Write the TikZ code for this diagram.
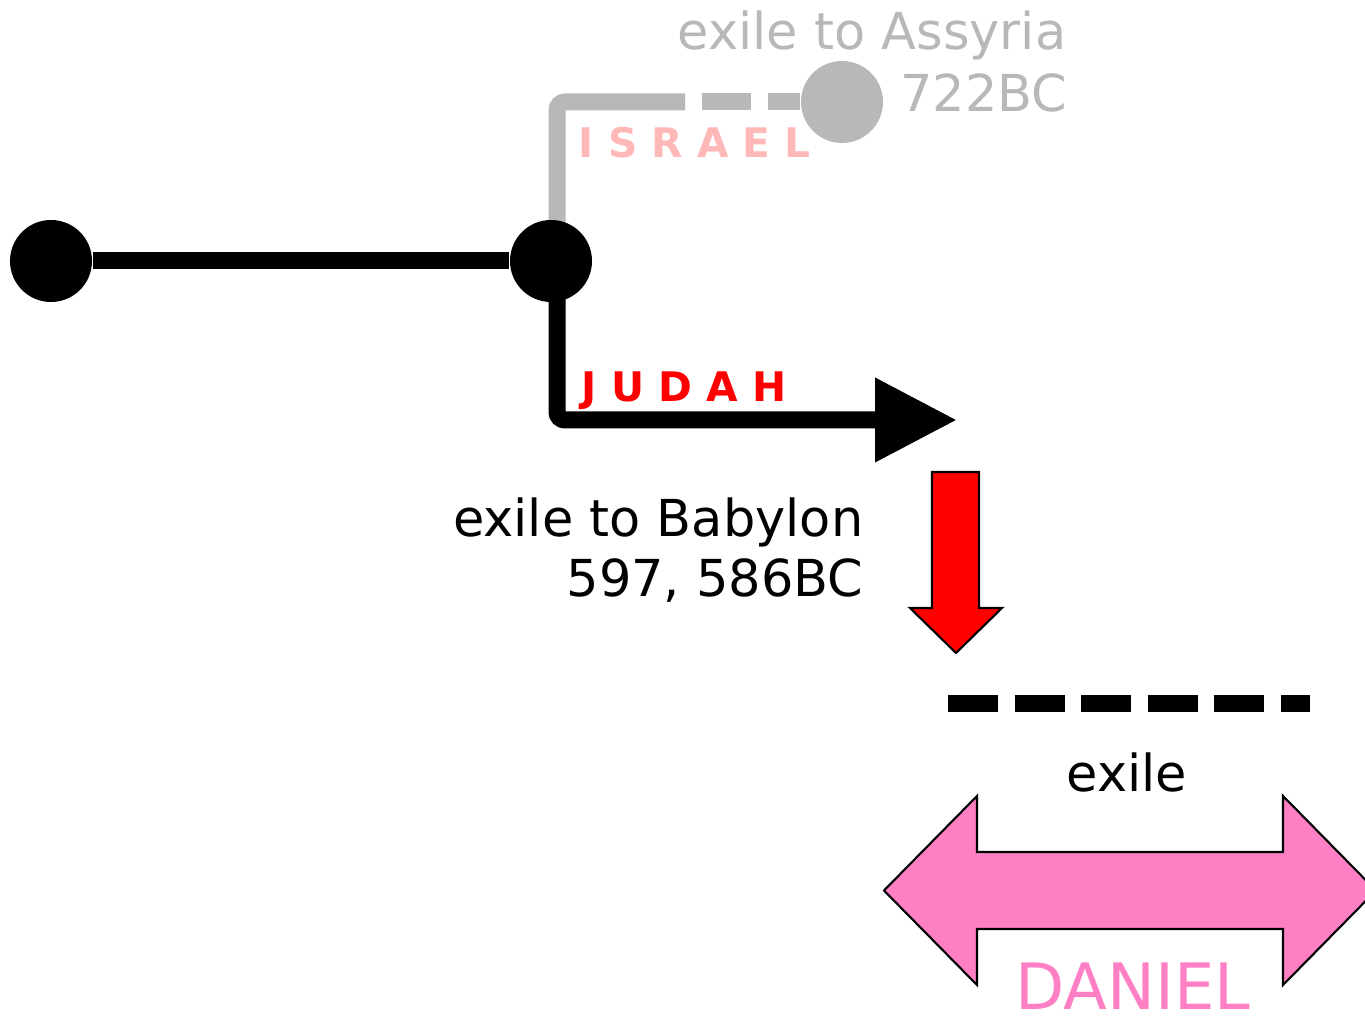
\documentclass[tikz,border=0pt]{standalone}
\usepackage{fontspec}
\setmainfont{DejaVu Sans}
\usetikzlibrary{arrows.meta}
\definecolor{israelgray}{HTML}{B8B8B8}
\definecolor{israelpink}{HTML}{FFB8B8}
\definecolor{judahred}{HTML}{FF0000}
\definecolor{danielpink}{HTML}{FF7FC4}

\begin{document}
\begin{tikzpicture}[
  dot/.style={circle,fill=black,inner sep=0pt,minimum size=0.82cm},
  greydot/.style={dot,fill=israelgray},
  kingdom/.style={line width=0.17cm,rounded corners=0.08cm},
  note/.style={inner sep=0pt,font=\fontsize{14.5}{17.1}\selectfont},
  tribe/.style={inner sep=0pt,font=\bfseries\fontsize{11.6}{14}\selectfont},
  block/.style={draw=black,line width=0.6pt}]
  \useasboundingbox (0,0) rectangle (13.65,-10.23);
  \clip (0,0) rectangle (13.65,-10.23);

  % israel branch, drawn first so the dots sit on top
  \node[greydot] (assyria) at (8.42,-1.02) {};
  \coordinate (split) at (5.51,-2.61);
  \draw[kingdom,israelgray] ([xshift=0.06cm]split) |- (6.85,-1.02) coordinate (israelend);
  \draw[line width=0.17cm,israelgray,dash pattern=on 0pt off 0.17cm on 0.49cm off 0.17cm on 2cm]
    (israelend) -- (assyria);

  % judah branch
  \coordinate (judahtip) at (9.57,-4.20);
  \draw[kingdom,-{Triangle[length=0.82cm,width=0.80cm]}]
    ([xshift=0.06cm]split) |- (judahtip);

  % united kingdom
  \node[dot] (start) at (0.51,-2.61) {};
  \node[dot] (divide) at (split) {};
  \draw[line width=0.17cm] (start) -- (divide);

  \node[note,text=israelgray,anchor=base east] (assyrtext) at (10.67,-0.50) {exile to Assyria};
  \node[note,text=israelgray,anchor=base east] (assyrdate) at (10.68,-1.12) {722BC};
  \node[tribe,text=israelpink,anchor=base west] (israel) at (5.78,-1.58) {I S R A E L};
  \node[tribe,text=judahred,anchor=base west] (judah) at (5.81,-4.02) {J U D A H};

  \node[note,anchor=base east,align=right] (babylon) at (8.64,-5.97)
    {exile to Babylon\\597, 586BC};

  % deportation
  \draw[block,fill=red] (9.32,-4.72) -- (9.79,-4.72) -- (9.79,-6.08) -- (10.02,-6.08)
    -- (9.56,-6.53) -- (9.10,-6.08) -- (9.32,-6.08) -- cycle;

  % time in exile
  \coordinate (exstart) at (9.48,-7.04);
  \coordinate (exend) at (13.10,-7.04);
  \draw[line width=0.17cm,dash pattern=on 0.50cm off 0.165cm] (exstart) -- (exend);
  \node[note,anchor=base] (exile) at (11.27,-7.92) {exile};

  \draw[block,fill=danielpink] (8.84,-8.905) -- (9.77,-7.96) -- (9.77,-8.52) -- (12.83,-8.52)
    -- (12.83,-7.96) -- (13.76,-8.905) -- (12.83,-9.85) -- (12.83,-9.29) -- (9.77,-9.29)
    -- (9.77,-9.85) -- cycle;
  \node[inner sep=0pt,text=danielpink,font=\fontsize{18.2}{22}\selectfont,anchor=base west]
    (daniel) at (10.15,-10.10) {DANIEL};
\end{tikzpicture}
\end{document}
